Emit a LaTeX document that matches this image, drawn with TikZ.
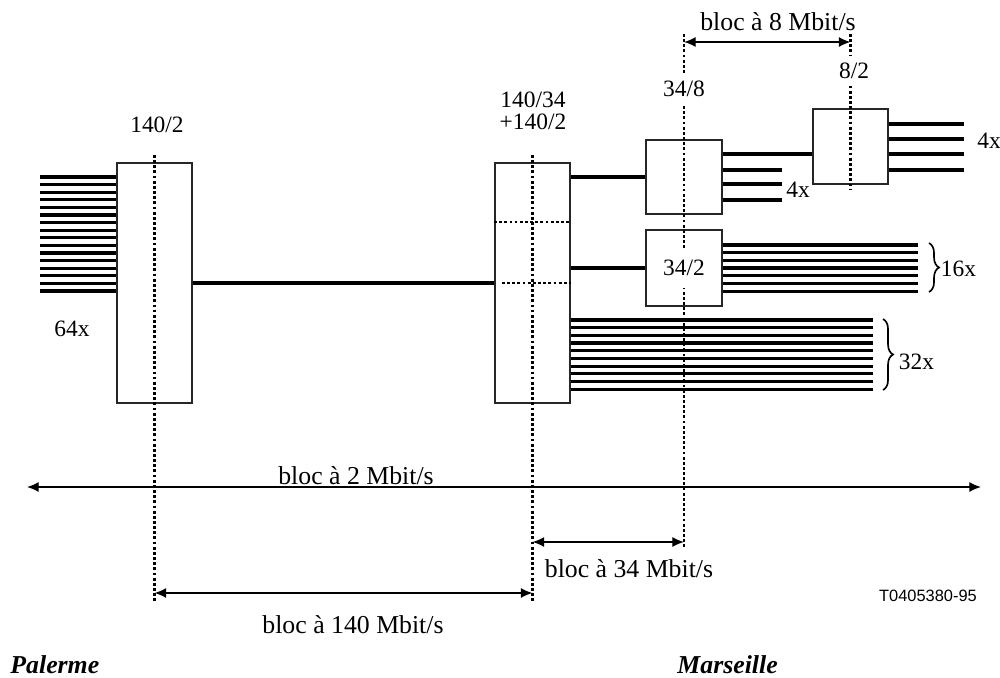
\documentclass[tikz,border=0pt]{standalone}
\usepackage{fontspec}
\setmainfont{Liberation Serif}
\newfontfamily\refsans{Liberation Sans}
\usepackage{tikz}
\usetikzlibrary{arrows.meta,decorations.pathreplacing}

\begin{document}
\begin{tikzpicture}[x=0.15mm, y=-0.15mm, >={Latex[length=5pt,width=4.3pt]},
    font=\fontsize{11}{13}\selectfont,
    wire/.style={line width=1.3pt},
    blk/.style={draw=black!85, line width=0.8pt, inner sep=0pt},
    axis/.style={line width=1.2pt, dash pattern=on 1.2pt off 1pt},
    span/.style={<->, line width=0.6pt},
    num/.style={font=\fontsize{10}{12}\selectfont, fill=white, inner xsep=1pt, inner ysep=3pt},
    curly/.style={decorate, decoration={brace, amplitude=4.3pt}, line width=0.7pt}]
  \useasboundingbox (0,0) rectangle (1000,677);

  % multiplexers
  \node[blk, minimum width=11.25mm, minimum height=36mm] (m140) at (154.5,283) {};
  \node[blk, minimum width=11.25mm, minimum height=36mm] (d140) at (532.5,283) {};
  \node[blk, minimum width=11.4mm, minimum height=11.1mm] (m348) at (684,177) {};
  \node[blk, minimum width=11.4mm, minimum height=11.4mm] (m342) at (684,268) {};
  \node[blk, minimum width=11.25mm, minimum height=11.25mm] (m82) at (850.5,146.5) {};

  % 2 Mbit/s tributaries
  \foreach \i [evaluate=\i as \y using 177+7.6*\i] in {0,...,15}
    \draw[wire] (40,\y) -- (m140.west |- 40,\y);
  \foreach \i [evaluate=\i as \y using 245+7.67*\i] in {0,...,6}
    \draw[wire] (m342.east |- 0,\y) -- (918,\y);
  \foreach \i [evaluate=\i as \y using 320+7.67*\i] in {0,...,9}
    \draw[wire] (d140.east |- 0,\y) -- (873,\y);
  \foreach \y in {124,139,154,170}
    \draw[wire] (m82.east |- 0,\y) -- (964,\y);
  \foreach \y in {170,184,200}
    \draw[wire] (m348.east |- 0,\y) -- (782,\y);

  % links between equipments
  \draw[wire] (m140) -- (d140);
  \draw[wire] (d140.east |- m348) -- (m348);
  \draw[wire] (d140.east |- m342) -- (m342);
  \draw[wire] (m348.east |- 0,154) -- (m82.west |- 0,154);

  % block boundaries
  \draw[axis] (m140 |- 0,155) -- (m140 |- 0,602);
  \draw[axis] (d140 |- 0,155) -- (d140 |- 0,602);
  \draw[axis] (m348 |- 0,34) -- (m348 |- 0,547);
  \draw[axis] (m82 |- 0,34) -- (m82 |- 0,190);
  \draw[axis] (d140.west |- 0,222) -- (d140.east |- 0,222);
  \draw[axis] (502,283) -- (d140.east |- 0,283);

  % labels of equipments
  \node[num] (t1402) at (157,125) {140/2};
  \node[num, align=center] (t14034) at (533,111) {140/34\\[-2.5pt]+140/2};
  \node[num] (t348) at (684,89) {34/8};
  \node[num] (t82) at (854,71) {8/2};
  \node[num, inner ysep=5pt] (t342) at (m342) {34/2};
  \node[num, fill=none] (n64) at (72,329) {64x};
  \node[num, fill=none] (n4a) at (798,190) {4x};
  \node[num, fill=none] (n4b) at (989,141) {4x};

  % braces
  \draw[curly] (929,243) -- (929,292);
  \node[num, fill=none, anchor=west] (n16) at (938,269) {16x};
  \draw[curly] (883,319) -- (883,390);
  \node[num, fill=none, anchor=west] (n32) at (896,362) {32x};

  % block spans
  \draw[span] (m348 |- 0,42) -- (m82 |- 0,42);
  \node (b8) at (778,22) {bloc à 8 Mbit/s};
  \draw[span] (27,487) -- (981,487);
  \node[anchor=base] (b2) at (356,484) {bloc à 2 Mbit/s};
  \draw[span] (d140 |- 0,542) -- (m348 |- 0,542);
  \node (b34) at (629,569) {bloc à 34 Mbit/s};
  \draw[span] (m140 |- 0,593) -- (d140 |- 0,593);
  \node (b140) at (353,625) {bloc à 140 Mbit/s};

  \node[font=\refsans\fontsize{7}{8}\selectfont] (ref) at (928,596) {T0405380-95};
  \node[font=\fontsize{11}{13}\selectfont\bfseries\itshape, anchor=base west, inner sep=0pt] (pal) at (10,673) {Palerme};
  \node[font=\fontsize{11}{13}\selectfont\bfseries\itshape, anchor=base west, inner sep=0pt] (mar) at (677,673) {Marseille};
\end{tikzpicture}
\end{document}
